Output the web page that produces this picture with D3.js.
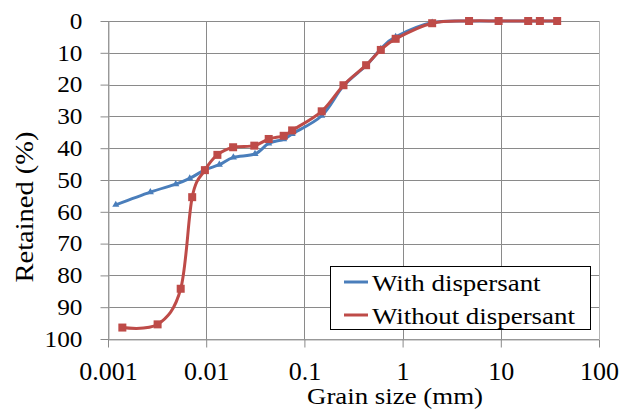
<!DOCTYPE html>
<html>
<head>
<meta charset="utf-8">
<script src="https://cdn.jsdelivr.net/npm/d3@7"></script>
<style>
  body { margin: 0; background: #fff; }
  svg text { font-family: "Times New Roman", Times, "Liberation Serif", Tinos, serif !important; fill: #000; }
</style>
</head>
<body>
<div id="container"></div>
<script>
// grain size (mm) and % retained
const sizeWith = [37.5, 25, 19, 9.5, 4.75, 2, 0.85, 0.6, 0.425, 0.25, 0.15, 0.075, 0.0615, 0.0433, 0.0314, 0.0189, 0.0136, 0.0097, 0.0068, 0.0049, 0.0027, 0.0012];
const retWith  = [0, 0, 0, 0, 0, 0.5, 5.0, 8.8, 14.0, 20.4, 29.8, 35.5, 37.2, 38.5, 41.8, 42.9, 45.2, 46.8, 49.5, 51.3, 53.8, 57.8];
const sizeWithout = [37.5, 25, 19, 9.5, 4.75, 2, 0.85, 0.6, 0.425, 0.25, 0.15, 0.075, 0.0615, 0.0433, 0.0309, 0.0188, 0.013, 0.0097, 0.0072, 0.0055, 0.0032, 0.0014];
const retWithout  = [0, 0, 0, 0, 0, 0.7, 5.6, 9.1, 13.9, 20.2, 28.4, 34.4, 36.1, 37.1, 39.2, 39.7, 42.1, 46.9, 55.4, 84.2, 95.4, 96.4];
const xTicks = [0.001, 0.01, 0.1, 1, 10, 100];
const xTickLabels = ["0.001", "0.01", "0.1", "1", "10", "100"];
const yTicks = [0, 10, 20, 30, 40, 50, 60, 70, 80, 90, 100];
const seriesNames = ["With dispersant", "Without dispersant"];

const w = 622;
const h = 410;
const pLeft = 108, pRight = 599, pTop = 21, pBottom = 339;
const gridColor = "#8a8a8a";
const blue = "#4a7ebb";
const red = "#be4b48";

const svg = d3.select("#container")
  .append("svg")
  .attr("width", w)
  .attr("height", h);

const xScale = d3.scaleLog()
  .domain([0.001, 100])
  .range([pLeft, pRight]);

const yScale = d3.scaleLinear()
  .domain([0, 100])
  .range([pTop, pBottom]);

// stretch text horizontally like the original picture
function stretch(sel, k) {
  sel.each(function () {
    const len = this.getComputedTextLength();
    d3.select(this).attr("textLength", len * k).attr("lengthAdjust", "spacingAndGlyphs");
  });
}

// grid
svg.append("g")
  .selectAll("line")
  .data(yTicks)
  .enter()
  .append("line")
  .attr("x1", pLeft).attr("x2", pRight)
  .attr("y1", d => Math.round(yScale(d)) + 0.5)
  .attr("y2", d => Math.round(yScale(d)) + 0.5)
  .attr("stroke", gridColor);

svg.append("g")
  .selectAll("line")
  .data(xTicks)
  .enter()
  .append("line")
  .attr("x1", d => Math.round(xScale(d)) + 0.5)
  .attr("x2", d => Math.round(xScale(d)) + 0.5)
  .attr("y1", pTop).attr("y2", pBottom)
  .attr("stroke", d => d === 100 ? "#b4b4b4" : gridColor);

// axes
const xAxis = d3.axisBottom(xScale)
  .tickValues(xTicks)
  .tickFormat((d, i) => xTickLabels[i])
  .tickSizeInner(8)
  .tickSizeOuter(0)
  .tickPadding(14);

const yAxis = d3.axisLeft(yScale)
  .tickValues(yTicks)
  .tickSizeInner(8)
  .tickSizeOuter(0)
  .tickPadding(18);

const gx = svg.append("g")
  .attr("transform", "translate(0," + (Math.round(pBottom) + 0.5) + ")")
  .call(xAxis);
const gy = svg.append("g")
  .attr("transform", "translate(" + (Math.round(pLeft) + 0.5) + ",0)")
  .call(yAxis);

[gx, gy].forEach(g => {
  g.attr("font-family", null);
  g.select(".domain").attr("stroke", "#a6a6a6");
  g.selectAll(".tick line").attr("stroke", gridColor);
});
gx.selectAll("text").style("font-size", "26px");
gy.selectAll("text").style("font-size", "23px");
stretch(gy.selectAll("text"), 1.1);

// series
const line = d3.line()
  .x(d => xScale(d[0]))
  .y(d => yScale(d[1]))
  .curve(d3.curveCatmullRom.alpha(0));

const withData = sizeWith.map((s, i) => [s, retWith[i]]);
const withoutData = sizeWithout.map((s, i) => [s, retWithout[i]]);

svg.append("path")
  .datum(withData)
  .attr("d", line)
  .attr("fill", "none")
  .attr("stroke", blue)
  .attr("stroke-width", 3)
  .attr("stroke-linejoin", "round");

const tri = d3.symbol().type(d3.symbolTriangle).size(22);
svg.append("g")
  .selectAll("path")
  .data(withData)
  .enter()
  .append("path")
  .attr("d", tri)
  .attr("transform", d => "translate(" + xScale(d[0]) + "," + yScale(d[1]) + ")")
  .attr("fill", blue);

svg.append("path")
  .datum(withoutData)
  .attr("d", line)
  .attr("fill", "none")
  .attr("stroke", red)
  .attr("stroke-width", 3)
  .attr("stroke-linejoin", "round");

svg.append("g")
  .selectAll("rect")
  .data(withoutData)
  .enter()
  .append("rect")
  .attr("x", d => xScale(d[0]) - 4)
  .attr("y", d => yScale(d[1]) - 4)
  .attr("width", 8)
  .attr("height", 8)
  .attr("fill", red);

// axis titles
svg.append("text")
  .attr("x", 395)
  .attr("y", 404)
  .attr("text-anchor", "middle")
  .style("font-size", "23px")
  .attr("textLength", 176)
  .attr("lengthAdjust", "spacingAndGlyphs")
  .text("Grain size (mm)");

svg.append("text")
  .attr("transform", "translate(33,207) rotate(-90)")
  .attr("text-anchor", "middle")
  .style("font-size", "25px")
  .attr("textLength", 151)
  .attr("lengthAdjust", "spacingAndGlyphs")
  .text("Retained (%)");

// legend
const legend = svg.append("g");
legend.append("rect")
  .attr("x", 330.5).attr("y", 266.5)
  .attr("width", 260).attr("height", 63)
  .attr("fill", "#fff")
  .attr("stroke", "#000");

const entries = legend.selectAll("g.entry")
  .data(seriesNames)
  .enter()
  .append("g")
  .attr("class", "entry")
  .attr("transform", (d, i) => "translate(0," + (282 + i * 33) + ")");

entries.append("line")
  .attr("x1", 344).attr("x2", 368)
  .attr("stroke", (d, i) => i === 0 ? blue : red)
  .attr("stroke-width", 3);

entries.append("text")
  .attr("x", 372)
  .attr("y", 8.5)
  .style("font-size", "23px")
  .text(d => d);
stretch(entries.selectAll("text"), 1.17);
</script>
</body>
</html>
